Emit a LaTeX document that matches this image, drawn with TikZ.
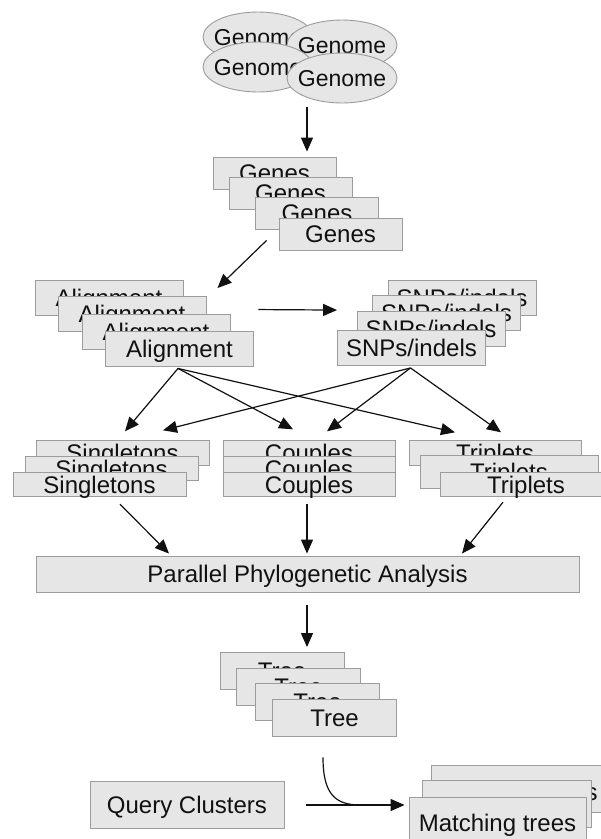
\documentclass[tikz,border=0pt]{standalone}
\usepackage{fontspec}
\setmainfont{Liberation Sans}
\usetikzlibrary{arrows.meta,shapes.geometric,calc}
\definecolor{boxfill}{HTML}{E6E6E6}
\definecolor{boxline}{HTML}{9C9C9C}
\definecolor{ink}{HTML}{111111}
\tikzset{
  lbl/.style={font=\fontsize{24}{24}\selectfont, text=ink},
  box/.style 2 args={rectangle, draw=boxline, fill=boxfill, line width=0.9pt,
    inner sep=0pt, text height=17pt, text depth=0pt,
    minimum width=#1pt, minimum height=#2pt, lbl},
  ell/.style={ellipse, draw=boxline, fill=boxfill, line width=0.9pt,
    inner sep=0pt, minimum width=110pt, minimum height=50pt,
    font=\fontsize{23}{23}\selectfont, text=ink},
  arr/.style={-{Triangle[length=14pt,width=12pt]}, line width=1.2pt, draw=ink},
  plain/.style={line width=1.2pt, draw=ink}
}
\begin{document}
\begin{tikzpicture}[x=1pt,y=-1pt]
\path[use as bounding box, clip] (0,0) rectangle (601,839);
\fill[white] (0,0) rectangle (601,839);

% Genomes
\node[ell] (e1) at (258,37) {\makebox[0pt]{\raisebox{0pt}[17pt][0pt]{Genome}}};
\node[ell] (e2) at (342,45) {\makebox[0pt]{\raisebox{0pt}[17pt][0pt]{Genome}}};
\node[ell] (e3) at (258,67) {\makebox[0pt]{\raisebox{0pt}[17pt][0pt]{Genome}}};
\node[ell] (e4) at (342,78) {\makebox[0pt]{\raisebox{0pt}[17pt][0pt]{Genome}}};

% Genes
\node[box={123}{32}] (g1) at (274.5,173) {Genes};
\node[box={123}{32}] (g2) at (290.5,193) {Genes};
\node[box={123}{32}] (g3) at (317,213) {Genes};
\node[box={123}{32}] (g4) at (340.5,234) {Genes};

% Alignment
\node[box={148}{35}] (a1) at (109,298) {Alignment};
\node[box={148}{35}] (a2) at (132,313.5) {Alignment};
\node[box={148}{35}] (a3) at (156,332) {Alignment};
\node[box={148}{35}] (a4) at (179.5,348.5) {Alignment};

% SNPs
\node[box={148}{35}] (s1) at (462,297.5) {SNPs/indels};
\node[box={148}{35}] (s2) at (446.5,312.5) {SNPs/indels};
\node[box={148}{35}] (s3) at (431,329) {SNPs/indels};
\node[box={148}{35}] (s4) at (411.5,348) {SNPs/indels};

% Singletons
\node[box={173}{24.5}] (si1) at (122.5,453) {Singletons};
\node[box={173}{24.5}] (si2) at (111.5,468.5) {Singletons};
\node[box={173}{24.5}] (si3) at (99.5,484.5) {Singletons};

% Couples
\node[box={172}{24.5}] (c1) at (309,453) {Couples};
\node[box={172}{24.5}] (c2) at (309,468.5) {Couples};
\node[box={172}{24.5}] (c3) at (309,484.5) {Couples};

% Triplets
\node[box={172}{24.5}] (t1) at (495,453) {Triplets};
\node[box={178}{33}] (t2) at (509,471.5) {Triplets};
\node[box={172}{24.5}] (t3) at (526,484.5) {Triplets};

% Parallel analysis
\node[box={543}{36}] (ppa) at (307.5,574) {Parallel Phylogenetic Analysis};

% Trees
\node[box={124}{37}] (tr1) at (282,671) {Tree};
\node[box={124}{37}] (tr2) at (298.5,686.5) {Tree};
\node[box={124}{37}] (tr3) at (317.5,702) {Tree};
\node[box={124}{37}] (tr4) at (334.5,717.5) {Tree};

% Query and matching
\node[box={194}{47}] (q) at (187,804.5) {Query Clusters};
\node[box={176}{47}] (m1) at (519,788.5) {\raisebox{-3pt}{Matching trees}};
\node[box={169}{47}] (m2) at (506.5,803.5) {\raisebox{-3pt}{Matching trees}};
\node[box={177}{47}] (m3) at (497.5,820.5) {\raisebox{-2pt}{Matching trees}};

% helper coordinates
\coordinate (ao) at ($(a4.south)+(-1.5,2)$);
\coordinate (so) at ($(s4.south)+(-1,2)$);
\coordinate (merge) at ($(q.east)+(76,0.5)$);

% connectors
\draw[arr] ($(e4.south)+(-35,4)$) -- ($(g1.north)+(32.5,-5)$);
\draw[arr] ($(g4.south west)+(-12,-10)$) -- ($(a3.north east)+(-13,-26)$);
\draw[arr] ($(a4.north east)+(4.5,-21)$) -- ($(s4.north west)+(0,-20)$);

\draw[arr] (ao) -- ($(si1.north)+(2.5,-9)$);
\draw[arr] (ao) -- ($(c1.north)+(-16,-11)$);
\draw[arr] (ao) -- ($(t1.north)+(-40,-8)$);
\draw[arr] (so) -- ($(si1.north)+(40.5,-10)$);
\draw[arr] (so) -- ($(c1.north)+(18,-9)$);
\draw[arr] (so) -- ($(t1.north)+(6,-8)$);

\draw[arr] ($(si3.south)+(20.5,7)$) -- ($(ppa.north)+(-138.5,-2)$);
\draw[arr] ($(c3.south)+(-2,7)$) -- ($(ppa.north)+(-0.5,-2)$);
\draw[arr] ($(t3.south)+(-23,5)$) -- ($(ppa.north)+(154.5,-2)$);

\draw[arr] ($(ppa.south)+(-0.5,13)$) -- ($(tr1.north)+(25,-5)$);

\draw[plain] ($(tr4.south)+(-11.5,21)$) .. controls ($(tr4.south)+(-11.5,58)$) and ($(merge)+(-25,0)$) .. (merge);
\draw[arr] ($(q.east)+(22,0.5)$) -- ($(m3.west)+(-4,-15.5)$);
\end{tikzpicture}
\end{document}
